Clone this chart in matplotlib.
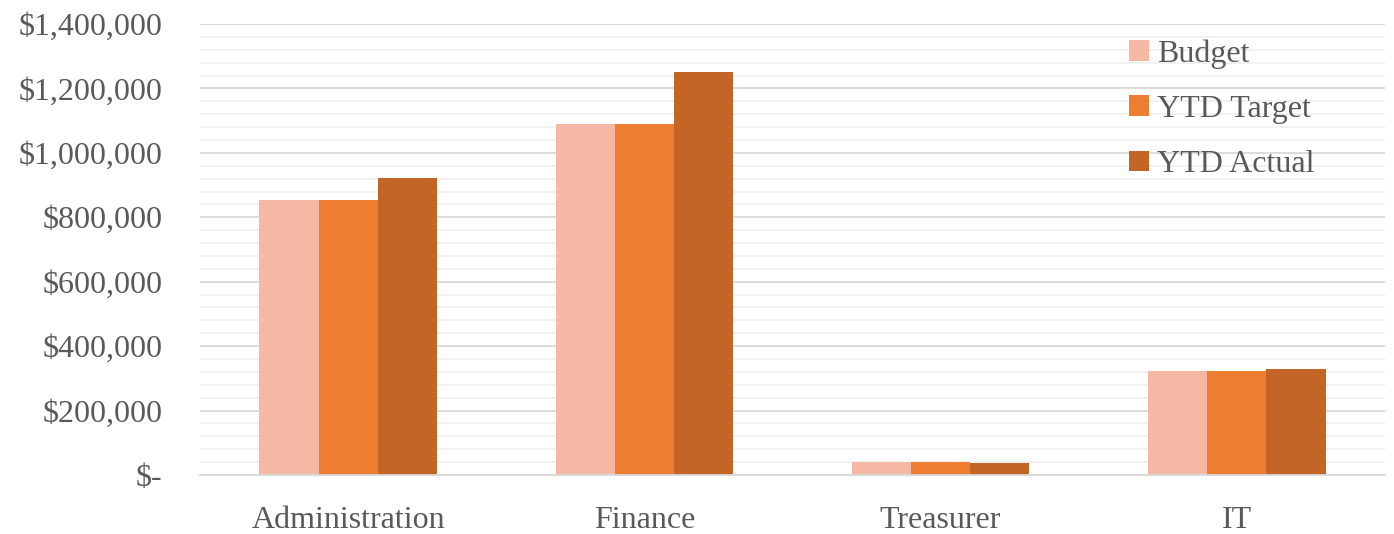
import numpy as np
import matplotlib
matplotlib.use('Agg')
import matplotlib.pyplot as plt
from matplotlib.ticker import MultipleLocator, FuncFormatter

# data
categories = ['Administration', 'Finance', 'Treasurer', 'IT']
budget = [855000, 1090000, 40000, 323000]
ytd_target = [855000, 1090000, 41000, 323000]
ytd_actual = [922000, 1251000, 36000, 329000]

series = [('Budget', budget, '#F4B8A5'),
          ('YTD Target', ytd_target, '#ED7D31'),
          ('YTD Actual', ytd_actual, '#C46528')]

plt.rcParams['font.family'] = ['Liberation Serif', 'DejaVu Serif']
txt = '#595959'

fig = plt.figure(figsize=(13.94, 5.34), dpi=100)
ax = fig.add_axes([0.1435, 0.1105, 0.85, 0.8445])

x = np.arange(len(categories))
w = 0.2
for i, (name, vals, col) in enumerate(series):
    ax.bar(x + (i - 1) * w, vals, width=w, color=col, label=name, zorder=3)

ax.set_xlim(-0.5, len(categories) - 0.5)
ax.set_ylim(0, 1400000)
ax.yaxis.set_major_locator(MultipleLocator(200000))
ax.yaxis.set_minor_locator(MultipleLocator(40000))
ax.grid(which='major', axis='y', color='#d9d9d9', linewidth=1.3, zorder=0)
ax.grid(which='minor', axis='y', color='#f0f0f0', linewidth=1.3, zorder=0)

def fmt(v, pos):
    if v == 0:
        return '$-'
    return '${:,.0f}'.format(v)
ax.yaxis.set_major_formatter(FuncFormatter(fmt))

ax.set_xticks(x)
ax.set_xticklabels(categories)
ax.tick_params(axis='both', which='both', length=0, colors=txt, labelsize=23)
ax.tick_params(axis='y', pad=27)
ax.tick_params(axis='x', pad=22)

for s in ['top', 'right', 'left']:
    ax.spines[s].set_visible(False)
ax.spines['bottom'].set_color('#d9d9d9')
ax.spines['bottom'].set_linewidth(1.3)
ax.spines['bottom'].set_zorder(4)

leg = ax.legend(loc='upper left', bbox_to_anchor=(0.7595, 1.03), frameon=False,
                fontsize=23, handlelength=0.62, handleheight=0.62,
                handletextpad=0.28, labelspacing=0.82)
for t in leg.get_texts():
    t.set_color(txt)

fig.savefig('out.png', dpi=100)
